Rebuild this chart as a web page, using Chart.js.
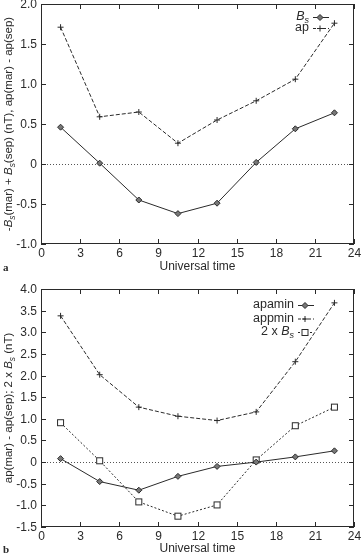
<!DOCTYPE html>
<html>
<head>
<meta charset="utf-8">
<script src="https://cdn.jsdelivr.net/npm/chart.js@4.4.1/dist/chart.umd.min.js"></script>
<style>
  html, body { margin: 0; padding: 0; background: #fff; }
  #wrap { position: relative; width: 361px; height: 555px; }
  #wrap canvas { position: absolute; left: 0; }
</style>
</head>
<body>
<div id="wrap">
  <canvas id="chartA" width="361" height="275" style="top:0"></canvas>
  <canvas id="chartB" width="361" height="280" style="top:275px"></canvas>
</div>
<script>
// data
const hours = [1.5, 4.5, 7.5, 10.5, 13.5, 16.5, 19.5, 22.5];

// panel a
const bsA = [0.46, 0.01, -0.45, -0.62, -0.49, 0.02, 0.44, 0.64];
const apA = [1.71, 0.59, 0.65, 0.26, 0.55, 0.79, 1.06, 1.76];

// panel b
const apaminB = [0.08, -0.45, -0.65, -0.33, -0.10, 0.00, 0.12, 0.26];
const appminB = [3.38, 2.02, 1.27, 1.06, 0.96, 1.16, 2.32, 3.68];
const bs2B = [0.91, 0.03, -0.92, -1.25, -0.99, 0.05, 0.84, 1.27];

const xTicks = [0, 3, 6, 9, 12, 15, 18, 21, 24];
const yTicksA = [-1.0, -0.5, 0, 0.5, 1.0, 1.5, 2.0];
const yTicksB = [-1.5, -1.0, -0.5, 0, 0.5, 1.0, 1.5, 2.0, 2.5, 3.0, 3.5, 4.0];

const FONT = "'Liberation Sans', Arial, sans-serif";
const INK = '#2a2a2a';

const pts = (ys) => hours.map((h, i) => ({ x: h, y: ys[i] }));

// markers
function drawMarker(ctx, kind, x, y) {
    ctx.save();
    ctx.setLineDash([]);
    ctx.strokeStyle = INK;
    ctx.lineWidth = 1;
    if (kind === 'diamond') {
        ctx.fillStyle = '#777';
        ctx.beginPath();
        ctx.moveTo(x, y - 3); ctx.lineTo(x + 3, y); ctx.lineTo(x, y + 3); ctx.lineTo(x - 3, y);
        ctx.closePath(); ctx.fill(); ctx.stroke();
    } else if (kind === 'plus') {
        ctx.beginPath();
        ctx.moveTo(x - 3, y); ctx.lineTo(x + 3, y);
        ctx.moveTo(x, y - 3); ctx.lineTo(x, y + 3);
        ctx.stroke();
    } else if (kind === 'square') {
        ctx.fillStyle = '#fff';
        ctx.fillRect(x - 3, y - 3, 6, 6);
        ctx.strokeRect(x - 3, y - 3, 6, 6);
    }
    ctx.restore();
}

// text with italic / subscript parts
function richWidth(ctx, parts, size) {
    let w = 0;
    parts.forEach(p => {
        ctx.font = (p.it ? 'italic ' : '') + (p.sub ? size * 0.72 : size) + 'px ' + FONT;
        w += ctx.measureText(p.t).width;
    });
    return w;
}
function drawRich(ctx, parts, x, y, size, align) {
    let w = richWidth(ctx, parts, size);
    let cx = align === 'right' ? x - w : align === 'center' ? x - w / 2 : x;
    ctx.textBaseline = 'middle';
    ctx.textAlign = 'left';
    ctx.fillStyle = INK;
    parts.forEach(p => {
        ctx.font = (p.it ? 'italic ' : '') + (p.sub ? size * 0.72 : size) + 'px ' + FONT;
        ctx.fillText(p.t, cx, p.sub ? y + size * 0.3 : y);
        cx += ctx.measureText(p.t).width;
    });
}

const deco = {
    id: 'deco',
    beforeDatasetsDraw(chart) {
        const { ctx, chartArea: { left, right }, scales: { y } } = chart;
        const y0 = Math.round(y.getPixelForValue(0)) + 0.5;
        ctx.save();
        ctx.strokeStyle = '#555';
        ctx.lineWidth = 1;
        ctx.setLineDash([1, 2]);
        ctx.beginPath(); ctx.moveTo(left, y0); ctx.lineTo(right, y0); ctx.stroke();
        ctx.restore();
    },
    afterDraw(chart, args, opts) {
        const { ctx, chartArea: { left, right, top, bottom }, scales: { x, y } } = chart;
        ctx.save();
        ctx.strokeStyle = INK;
        ctx.lineWidth = 1;
        ctx.strokeRect(left + 0.5, top + 0.5, right - left - 1, bottom - top - 1);
        // inward ticks on all sides, plus labels
        ctx.beginPath();
        x.ticks.forEach(t => {
            const px = Math.round(x.getPixelForValue(t.value)) + 0.5;
            ctx.moveTo(px, bottom); ctx.lineTo(px, bottom - 5);
            ctx.moveTo(px, top); ctx.lineTo(px, top + 5);
            drawRich(ctx, [{ t: String(t.value) }], px, bottom + 10, 12, 'center');
        });
        y.ticks.forEach(t => {
            const py = Math.round(y.getPixelForValue(t.value)) + 0.5;
            ctx.moveTo(left, py); ctx.lineTo(left + 5, py);
            ctx.moveTo(right, py); ctx.lineTo(right - 5, py);
            const lbl = t.value === 0 ? '0' : t.value.toFixed(1);
            drawRich(ctx, [{ t: lbl }], left - 4, py, 12, 'right');
        });
        ctx.stroke();

        // legend
        opts.legend.forEach((it, i) => {
            const ly = opts.legendY + i * opts.legendGap;
            drawRich(ctx, it.label, opts.legendX, ly, 12.5, 'right');
            ctx.save();
            ctx.strokeStyle = INK;
            ctx.setLineDash(it.dash);
            ctx.beginPath();
            ctx.moveTo(opts.legendX + 4, ly + 0.5);
            ctx.lineTo(opts.legendX + 20, ly + 0.5);
            ctx.stroke();
            ctx.restore();
            drawMarker(ctx, it.marker, opts.legendX + 11, ly + 0.5);
        });

        // x title
        drawRich(ctx, [{ t: 'Universal time' }], (left + right) / 2, bottom + opts.xTitleOff, 12, 'center');

        // y title (rotated)
        ctx.save();
        ctx.translate(9, (top + bottom) / 2);
        ctx.rotate(-Math.PI / 2);
        drawRich(ctx, opts.yTitle, 0, 0, 11.5, 'center');
        ctx.restore();

        // panel letter
        ctx.fillStyle = INK;
        ctx.font = 'bold 11px "Liberation Serif", serif';
        ctx.textBaseline = 'middle';
        ctx.textAlign = 'left';
        ctx.fillText(opts.letter, 3, bottom + opts.xTitleOff + 1);
        ctx.restore();
    }
};

function makeChart(id, datasets, yTicks, padTop, xHeight, decoOpts) {
    const ctx = document.getElementById(id).getContext('2d');
    return new Chart(ctx, {
        type: 'line',
        data: { datasets: datasets },
        options: {
            responsive: false,
            animation: false,
            layout: { padding: { top: padTop, right: 7, left: 0, bottom: 0 } },
            plugins: { legend: { display: false }, tooltip: { enabled: false }, deco: decoOpts },
            scales: {
                x: {
                    type: 'linear', min: 0, max: 24,
                    afterBuildTicks: s => { s.ticks = xTicks.map(v => ({ value: v })); },
                    afterFit: s => { s.height = xHeight; },
                    grid: { display: false },
                    border: { display: false },
                    ticks: { display: false }
                },
                y: {
                    type: 'linear', min: yTicks[0], max: yTicks[yTicks.length - 1],
                    afterBuildTicks: s => { s.ticks = yTicks.map(v => ({ value: v })); },
                    afterFit: s => { s.width = 41; },
                    grid: { display: false },
                    border: { display: false },
                    ticks: { display: false }
                }
            }
        },
        plugins: [deco]
    });
}

const lineBase = { borderColor: INK, borderWidth: 1, pointRadius: 0, fill: false, tension: 0 };

// marker plugin draws our own point shapes on top of lines
const markers = {
    id: 'markers',
    afterDatasetsDraw(chart) {
        chart.data.datasets.forEach((ds, i) => {
            chart.getDatasetMeta(i).data.forEach(p => drawMarker(chart.ctx, ds.marker, p.x, p.y));
        });
    }
};
Chart.register(markers);

makeChart('chartA', [
    Object.assign({ label: 'ap', data: pts(apA), borderDash: [4, 2], marker: 'plus' }, lineBase),
    Object.assign({ label: 'Bs', data: pts(bsA), borderDash: [], marker: 'diamond' }, lineBase)
], yTicksA, 4, 31, {
    legend: [
        { label: [{ t: 'B', it: true }, { t: 's', it: true, sub: true }], dash: [], marker: 'diamond' },
        { label: [{ t: 'ap' }], dash: [3, 2], marker: 'plus' }
    ],
    legendX: 309, legendY: 17, legendGap: 11,
    xTitleOff: 23,
    letter: 'a',
    yTitle: [
        { t: '-' }, { t: 'B', it: true }, { t: 's', it: true, sub: true }, { t: '(mar) + ' },
        { t: 'B', it: true }, { t: 's', it: true, sub: true }, { t: '(sep) (nT), ap(mar) - ap(sep)' }
    ]
});

makeChart('chartB', [
    Object.assign({ label: 'appmin', data: pts(appminB), borderDash: [4, 2], marker: 'plus' }, lineBase),
    Object.assign({ label: '2 x Bs', data: pts(bs2B), borderDash: [2, 2], marker: 'square' }, lineBase),
    Object.assign({ label: 'apamin', data: pts(apaminB), borderDash: [], marker: 'diamond' }, lineBase)
], yTicksB, 14, 28, {
    legend: [
        { label: [{ t: 'apamin' }], dash: [], marker: 'diamond' },
        { label: [{ t: 'appmin' }], dash: [3, 2], marker: 'plus' },
        { label: [{ t: '2 x ' }, { t: 'B', it: true }, { t: 's', it: true, sub: true }], dash: [2, 2], marker: 'square' }
    ],
    legendX: 294, legendY: 305 - 275, legendGap: 13.5,
    xTitleOff: 22,
    letter: 'b',
    yTitle: [
        { t: 'ap(mar) - ap(sep); 2 x ' }, { t: 'B', it: true }, { t: 's', it: true, sub: true }, { t: ' (nT)' }
    ]
});
</script>
</body>
</html>
